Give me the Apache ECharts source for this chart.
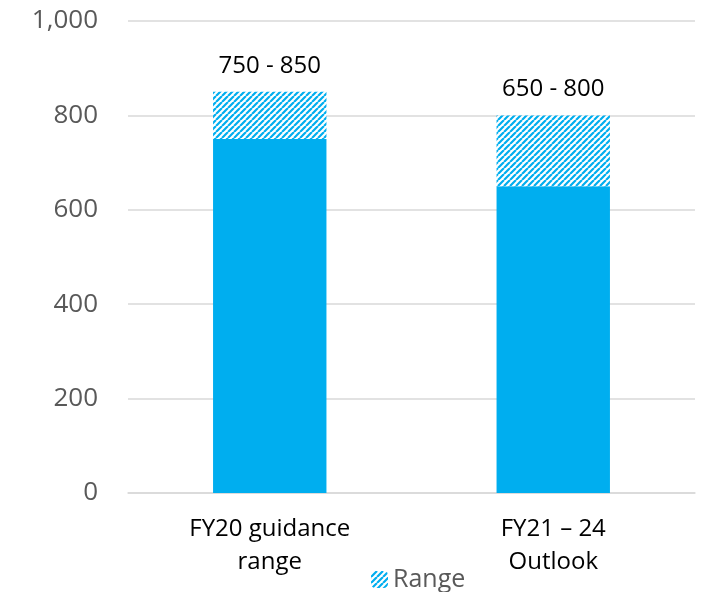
<!DOCTYPE html>
<html><head><meta charset="utf-8">
<script src="https://cdn.jsdelivr.net/npm/echarts@6/dist/echarts.min.js"></script>
<style>html,body{margin:0;padding:0;background:#fff}#c{width:705px;height:592px}</style>
</head><body><div id="c"></div>
<script>
var categories = ['FY20 guidance\nrange', 'FY21 – 24\nOutlook'];
var baseValues = [750, 650];
var rangeValues = [100, 150];
var rangeLabels = ['750 - 850', '650 - 800'];
var yTicks = [0, 200, 400, 600, 800, 1000];

var blue = '#00AEEF';
function makePattern() {
  var s = 6;
  var cv = document.createElement('canvas');
  cv.width = s; cv.height = s;
  var ctx = cv.getContext('2d');
  ctx.fillStyle = '#ffffff';
  ctx.fillRect(0, 0, s, s);
  ctx.strokeStyle = blue;
  ctx.lineWidth = 2.2;
  ctx.beginPath();
  for (var k = -1; k <= 1; k++) {
    ctx.moveTo(k * s, s);
    ctx.lineTo(k * s + s, 0);
  }
  ctx.stroke();
  return cv;
}
var pat = { image: makePattern(), repeat: 'repeat' };

var chart = echarts.init(document.getElementById('c'), null, { renderer: 'canvas' });
chart.setOption({
  animation: false,
  textStyle: { fontFamily: 'Open Sans' },
  grid: { left: 128, right: 10, top: 21, bottom: 99 },
  legend: {
    data: ['Range'], bottom: -5, left: 366, itemWidth: 17, itemHeight: 17, itemGap: 6,
    textStyle: { fontSize: 25, color: '#595959', fontFamily: 'Open Sans' }
  },
  xAxis: {
    type: 'category', data: categories,
    axisLine: { lineStyle: { color: '#d9d9d9', width: 1.5 } },
    axisTick: { show: false },
    axisLabel: { fontSize: 24, color: '#000', lineHeight: 33, margin: 20, fontFamily: 'Open Sans' }
  },
  yAxis: {
    type: 'value', min: yTicks[0], max: yTicks[yTicks.length - 1], interval: 200,
    axisLine: { show: false }, axisTick: { show: false },
    splitLine: { lineStyle: { color: '#d9d9d9', width: 1.5 } },
    axisLabel: {
      fontSize: 26, color: '#595959', margin: 30, fontFamily: 'Open Sans',
      formatter: function (v) { return v.toLocaleString('en-US'); }
    }
  },
  series: [
    { name: 'Base', type: 'bar', stack: 's', data: baseValues, barWidth: '40%',
      itemStyle: { color: blue } },
    { name: 'Range', type: 'bar', stack: 's', data: rangeValues, barWidth: '40%',
      itemStyle: { color: pat },
      label: { show: true, position: 'top', distance: 14, fontSize: 24, color: '#000', fontFamily: 'Open Sans',
        formatter: function (p) { return rangeLabels[p.dataIndex]; } } }
  ]
});
</script></body></html>
